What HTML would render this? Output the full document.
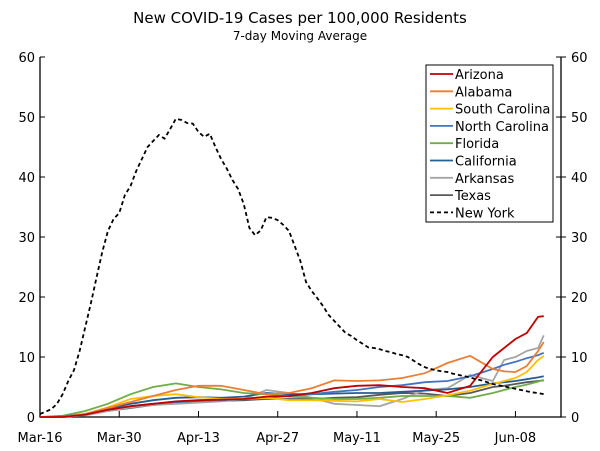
<!DOCTYPE html>
<html><head><meta charset="utf-8"><style>
body{margin:0;background:#fff}
svg{display:block;font-family:"DejaVu Sans","Liberation Sans",sans-serif}
</style></head><body>
<svg id="chart" width="600" height="451" viewBox="0 0 600 451">
<text x="300" y="23" text-anchor="middle" font-size="15">New COVID-19 Cases per 100,000 Residents</text>
<text x="300" y="40" text-anchor="middle" font-size="12">7-day Moving Average</text>
<g id="axes"></g><g id="series"></g><g id="legend"></g>
</svg>
<script>
const xTickLabels=["Mar-16","Mar-30","Apr-13","Apr-27","May-11","May-25","Jun-08"];
const xTickDays=[0,14,28,42,56,70,84];
const yTicks=[0,10,20,30,40,50,60];
const seriesNames=["Arizona","Alabama","South Carolina","North Carolina","Florida","California","Arkansas","Texas","New York"];
const days=[0,4,8,12,16,20,24,28,32,36,40,44,48,52,56,60,64,68,72,76,80,82,84,86,88,89];
const arizona=[0,0,0.4,1.2,1.8,2.2,2.6,2.8,2.9,3,3.4,3.5,4,4.8,5.2,5.3,5,4.8,4,5.2,10,11.5,13,14,16.7,16.8];
const alabama=[0,0,0.5,1.5,2.5,3.5,4.5,5.2,5.2,4.5,3.8,4,4.8,6.1,6,6.1,6.5,7.3,9,10.2,8,7.6,7.5,8.5,11,12.5];
const southCarolina=[0,0,0.5,1.6,3,3.5,3.8,3.3,3,3,3.2,2.8,2.8,2.7,2.6,3,2.5,3,3.6,4.4,5.5,6,6.5,7.5,9.5,10.2];
const northCarolina=[0,0.1,0.5,1.3,1.8,2.2,2.5,2.7,2.8,3,3.2,3.5,3.8,4.2,4.5,5,5.3,5.8,6,6.8,8,8.7,9.2,9.8,10.3,10.7];
const florida=[0,0.2,1,2.2,3.8,5,5.6,5,4.6,4,3.8,3.4,3.2,3,3,3.2,3.5,3.5,3.5,3.2,4,4.5,5,5.4,5.9,6.2];
const california=[0,0,0.5,1.4,2.2,2.8,3.2,3.3,3.2,3.4,4,3.8,3.8,3.9,4,4,4.2,4.4,4.6,5,5.6,5.8,6,6.3,6.6,6.8];
const arkansas=[0,0,0.3,1,1.6,2,2.2,2.4,2.6,3,4.5,4,3.2,2.2,2,1.8,3,4.5,4.8,7,6,9.5,10,11,11.5,13.6];
const texas=[0,0,0.3,1,1.5,2,2.4,2.6,2.7,2.8,3,3,3,3.2,3.3,3.7,4,3.9,3.5,4,5,5.2,5.5,5.8,6,6.1];
const newYork=[0.5,0.9,1.3,2.2,3.8,6,7.8,11,15,19,23.3,27.5,31,33,34,37,38.5,41,43,45,46,47,46.4,48,49.7,49.5,49,48.9,47.5,46.7,47.2,45,43,41.4,39.5,38,35.5,31.5,30.3,31.1,33.3,33.2,32.8,32,31,28.5,26,22.5,21,19.8,18.5,17,16,15,14,13.5,12.8,12.2,11.6,11.5,11.3,11,10.8,10.5,10.3,10,9.4,8.8,8.3,8,7.8,7.6,7.5,7.2,7,6.8,6.6,6.3,6.1,5.8,5.5,5.3,5.1,4.9,4.7,4.5,4.3,4.1,4,3.8];
const colors=["#c00000","#ed7d31","#ffc000","#4472c4","#70ad47","#255e91","#a5a5a5","#595959","#000"];
const L=40,R=561,T=57,B=417,PXD=5.66;
const X=d=>L+d*PXD, Y=v=>B-(v/60)*(B-T);
const NS="http://www.w3.org/2000/svg";
function mk(t,a,p){const e=document.createElementNS(NS,t);for(const k in a)e.setAttribute(k,a[k]);p.appendChild(e);return e;}
const ax=document.getElementById("axes");
const frame=mk("path",{d:`M${L},${T}V${B}H${R}V${T}`,fill:"none",stroke:"#000","stroke-width":1.3},ax);


yTicks.forEach(v=>{
 const l=mk("text",{x:L-5,y:Y(v)+5,"text-anchor":"end","font-size":13},ax);l.textContent=v;
 
 
 const r=mk("text",{x:R+10,y:Y(v)+5,"font-size":13},ax);r.textContent=v;
 
 
 mk("line",{x1:R-5,x2:R+5,y1:Y(v),y2:Y(v),stroke:"#000"},ax);
 mk("line",{x1:L,x2:L+5,y1:Y(v),y2:Y(v),stroke:"#000"},ax);
});
xTickDays.forEach((d,i)=>{
 mk("line",{x1:X(d),x2:X(d),y1:B,y2:B-6,stroke:"#000"},ax);
 const t=mk("text",{x:X(d),y:442,"text-anchor":"middle","font-size":13},ax);t.textContent=xTickLabels[i];
 
 
});
const sg=document.getElementById("series");
const data=[arizona,alabama,southCarolina,northCarolina,florida,california,arkansas,texas];
[7,6,5,4,3,2,1,0].forEach(i=>{
 const p=mk("polyline",{points:data[i].map((v,j)=>X(days[j])+","+Y(v)).join(" "),fill:"none",stroke:colors[i],"stroke-width":1.8},sg);
 
 
});
const ny=mk("polyline",{points:newYork.map((v,j)=>X(j)+","+Y(v)).join(" "),fill:"none",stroke:"#000","stroke-width":1.8,"stroke-dasharray":"4,3"},sg);


const lg=document.getElementById("legend");
const box=mk("rect",{x:426,y:65,width:127,height:157,fill:"#fff",stroke:"#000","stroke-width":1},lg);


seriesNames.forEach((n,i)=>{
 const y=74+i*17.3;
 const g=mk("g",{},lg);
 
 
 mk("line",{x1:430,x2:453,y1:y,y2:y,stroke:colors[i],"stroke-width":1.8,"stroke-dasharray":i==8?"4,3":"none"},g);
 const t=mk("text",{x:455,y:y+5,"font-size":13},g);t.textContent=n;
});
</script>
</body></html>
